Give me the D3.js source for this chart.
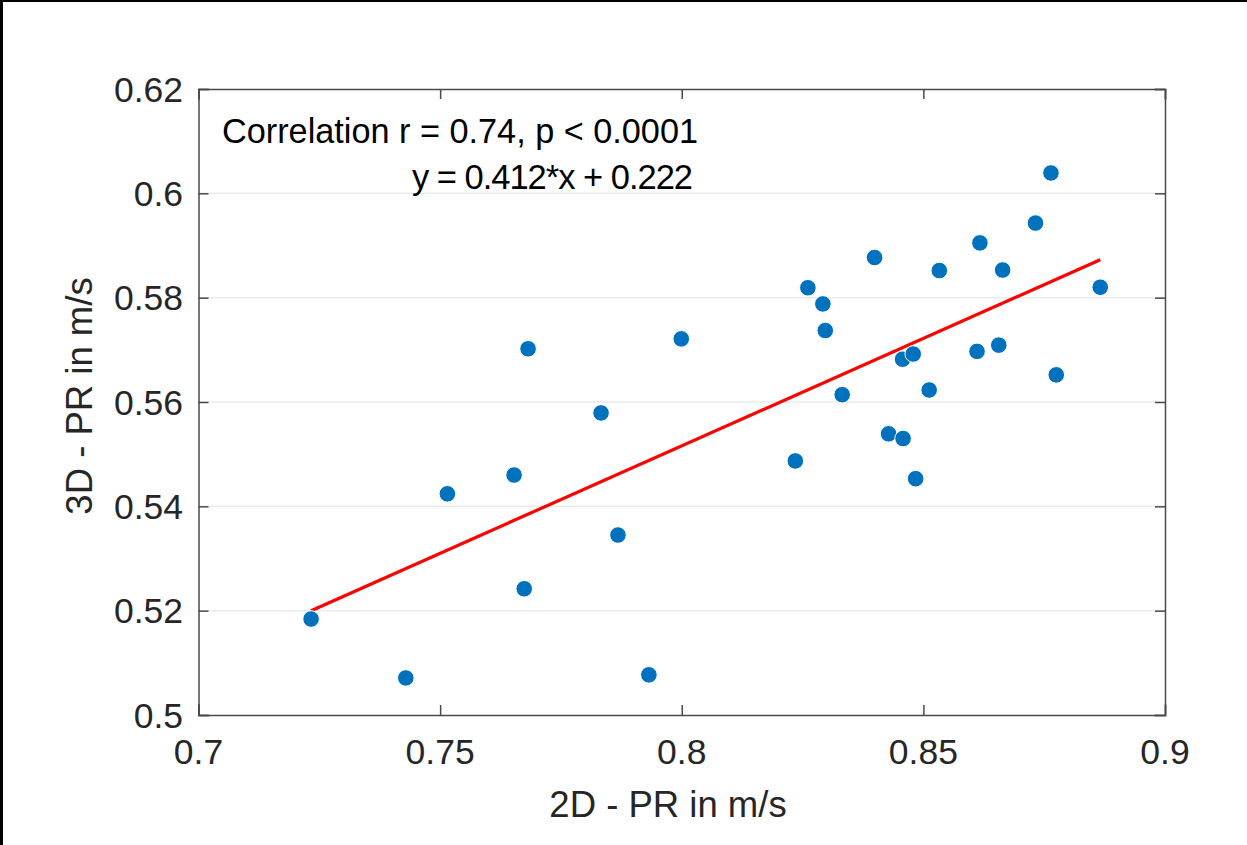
<!DOCTYPE html>
<html><head><meta charset="utf-8">
<script src="https://cdn.jsdelivr.net/npm/d3@7"></script>
<style>html,body{margin:0;padding:0;background:#fff;}svg{display:block;}</style>
</head><body>
<script>
const xValues = [0.7233,0.7429,0.7515,0.7653,0.7682,0.7674,0.7833,0.7868,0.7932,0.7999,0.8235,0.8261,0.8292,0.8297,0.8332,0.8399,0.8428,0.8457,0.8479,0.8458,0.8484,0.8512,0.8533,0.8611,0.8617,0.8656,0.8664,0.8732,0.8764,0.8775,0.8866];
const yValues = [0.5184,0.5071,0.5424,0.5460,0.5702,0.5242,0.5579,0.5345,0.5077,0.5721,0.5487,0.5819,0.5788,0.5737,0.5614,0.5877,0.5539,0.5682,0.5692,0.5530,0.5453,0.5623,0.5852,0.5697,0.5905,0.5709,0.5853,0.5943,0.6039,0.5652,0.5820];
const fitSlope = 0.412, fitIntercept = 0.222;
const xTicks = [0.7,0.75,0.8,0.85,0.9];
const xTickLabels = ["0.7","0.75","0.8","0.85","0.9"];
const yTicks = [0.5,0.52,0.54,0.56,0.58,0.6,0.62];
const yTickLabels = ["0.5","0.52","0.54","0.56","0.58","0.6","0.62"];
const annotation1 = "Correlation r = 0.74, p < 0.0001";
const annotation2 = "y = 0.412*x + 0.222";
const xLabel = "2D - PR in m/s";
const yLabel = "3D - PR in m/s";

const W = 1247, H = 845;
const L = 198.5, R = 1165, T = 89, B = 715;
const svg = d3.select("body").append("svg").attr("width", W).attr("height", H);
svg.append("rect").attr("width", W).attr("height", H).attr("fill", "#fff");
// image frame edges
svg.append("rect").attr("x",0).attr("y",0).attr("width",3).attr("height",H).attr("fill","#000");
svg.append("rect").attr("x",0).attr("y",0).attr("width",W).attr("height",2).attr("fill","#000");

const x = d3.scaleLinear().domain([0.7,0.9]).range([L,R]);
const y = d3.scaleLinear().domain([0.5,0.62]).range([B,T]);
const font = "Liberation Sans, Arial, Helvetica, sans-serif";

// grid
svg.append("g").selectAll("line").data(yTicks.slice(1,-1)).join("line")
  .attr("x1", L).attr("x2", R).attr("y1", d=>y(d)).attr("y2", d=>y(d))
  .attr("stroke", "#ebebeb").attr("stroke-width", 1.5);

// fit line
const xs = d3.extent(xValues);
svg.append("line")
  .attr("x1", x(xs[0])).attr("y1", y(fitSlope*xs[0]+fitIntercept))
  .attr("x2", x(xs[1])).attr("y2", y(fitSlope*xs[1]+fitIntercept))
  .attr("stroke", "#ff0000").attr("stroke-width", 3.2);

// points
svg.append("g").selectAll("circle").data(xValues.map((v,i)=>[v,yValues[i]])).join("circle")
  .attr("cx", d=>x(d[0])).attr("cy", d=>y(d[1])).attr("r", 8.3)
  .attr("fill", "#0072BD").attr("stroke", "#fff").attr("stroke-width", 1);

// axes (box with inward ticks on all sides)
const axCol = "#4a4a4a";
const tickLen = 10;
const axBottom = d3.axisBottom(x).tickValues(xTicks).tickSize(-tickLen).tickFormat("");
const axTop = d3.axisTop(x).tickValues(xTicks).tickSize(-tickLen).tickFormat("");
const axLeft = d3.axisLeft(y).tickValues(yTicks).tickSize(-tickLen).tickFormat("");
const axRight = d3.axisRight(y).tickValues(yTicks).tickSize(-tickLen).tickFormat("");
function styleAxis(g){
  g.selectAll("path").attr("stroke", axCol).attr("stroke-width", 1.5);
  g.selectAll("line").attr("stroke", axCol).attr("stroke-width", 1.5);
}
svg.append("g").attr("transform", `translate(0,${B})`).call(axBottom).call(styleAxis);
svg.append("g").attr("transform", `translate(0,${T})`).call(axTop).call(styleAxis);
svg.append("g").attr("transform", `translate(${L},0)`).call(axLeft).call(styleAxis);
svg.append("g").attr("transform", `translate(${R},0)`).call(axRight).call(styleAxis);
svg.selectAll(".domain").attr("stroke-linecap","square");

// tick labels
svg.append("g").selectAll("text").data(xTicks).join("text")
  .attr("x", d=>x(d)).attr("y", 764)
  .attr("text-anchor", "middle").attr("font-family", font).attr("font-size", 35.5)
  .attr("fill", "#262626").text((d,i)=>xTickLabels[i]);
svg.append("g").selectAll("text").data(yTicks).join("text")
  .attr("x", 183).attr("y", d=>y(d)+12.5)
  .attr("text-anchor", "end").attr("font-family", font).attr("font-size", 35.5)
  .attr("fill", "#262626").text((d,i)=>yTickLabels[i]);

// axis labels
svg.append("text").attr("x", 668).attr("y", 817).attr("text-anchor","middle")
  .attr("font-family", font).attr("font-size", 36.5).attr("fill","#262626").text(xLabel);
svg.append("text").attr("transform","translate(92,396) rotate(-90)").attr("text-anchor","middle")
  .attr("font-family", font).attr("font-size", 36.5).attr("fill","#262626").text(yLabel);

// annotation
svg.append("text").attr("x", 222).attr("y", 143).attr("font-family", font).attr("font-size", 34.5)
  .attr("fill","#000").attr("textLength", 476).attr("lengthAdjust","spacingAndGlyphs").text(annotation1);
svg.append("text").attr("x", 412).attr("y", 189).attr("font-family", font).attr("font-size", 34.5)
  .attr("fill","#000").attr("textLength", 281).attr("lengthAdjust","spacing").text(annotation2);
</script>
</body></html>
